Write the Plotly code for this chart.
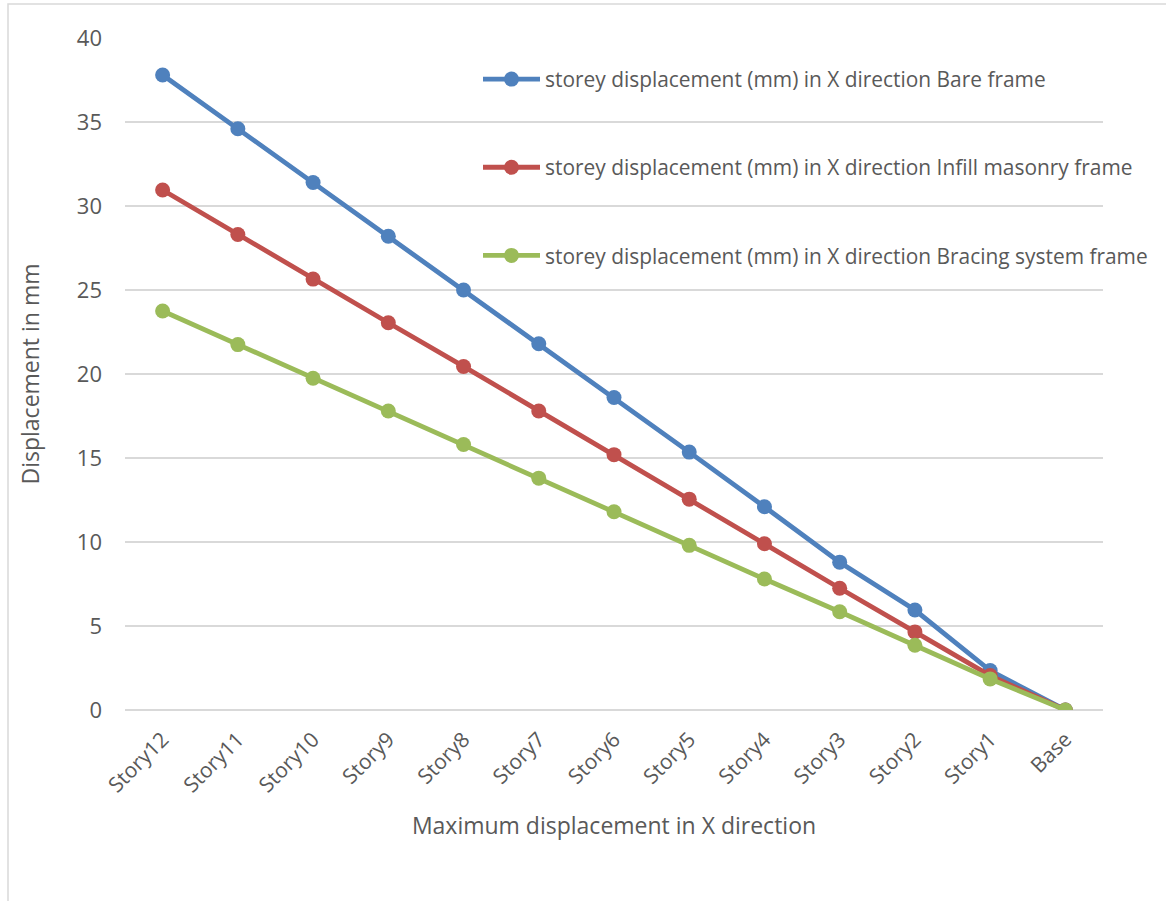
import plotly.graph_objects as go

categories = ["Story12", "Story11", "Story10", "Story9", "Story8", "Story7",
              "Story6", "Story5", "Story4", "Story3", "Story2", "Story1", "Base"]

bare_frame = [37.8, 34.6, 31.4, 28.2, 25.0, 21.8, 18.6, 15.35, 12.1, 8.8, 5.95, 2.35, 0]
infill_masonry = [30.95, 28.3, 25.65, 23.05, 20.45, 17.8, 15.2, 12.55, 9.9, 7.25, 4.65, 2.05, 0]
bracing_system = [23.75, 21.75, 19.75, 17.8, 15.8, 13.8, 11.8, 9.8, 7.8, 5.85, 3.85, 1.85, 0]

series_names = [
    "storey displacement (mm) in X direction Bare frame",
    "storey displacement (mm) in X direction Infill masonry frame",
    "storey displacement (mm) in X direction Bracing system frame",
]
series_values = [bare_frame, infill_masonry, bracing_system]
series_colors = ["#4F81BD", "#C0504D", "#9BBB59"]

FONT = "Open Sans, Calibri, sans-serif"
TEXT = "#595959"

fig = go.Figure()
for i, (name, vals, col) in enumerate(zip(series_names, series_values, series_colors)):
    fig.add_trace(go.Scatter(
        x=categories, y=vals, name=name, mode="lines+markers",
        line=dict(color=col, width=4.8),
        marker=dict(color=col, size=15),
        legendgroup=f"g{i}",
    ))

W, H = 1166, 901
L, R, T, B = 125, 63, 38, 191
pw, ph = W - L - R, H - T - B

fig.update_layout(
    width=W, height=H,
    margin=dict(l=L, r=R, t=T, b=B),
    paper_bgcolor="white", plot_bgcolor="white",
    font=dict(family=FONT, color=TEXT, size=20),
    showlegend=True,
    legend=dict(
        x=(483 - L - 5) / pw, y=1 - (78 - 19 - T) / ph,
        xanchor="left", yanchor="top",
        bgcolor="rgba(0,0,0,0)",
        font=dict(size=20.9, color=TEXT, family=FONT),
        tracegroupgap=58, itemwidth=57,
    ),
    xaxis=dict(
        type="category", showgrid=False, zeroline=False,
        showline=False, ticks="", tickangle=-45, ticklabelstandoff=12,
        tickfont=dict(size=21, color=TEXT),
        title=dict(text="Maximum displacement in X direction",
                   font=dict(size=23, color=TEXT), standoff=20),
        range=[-0.5, len(categories) - 0.5],
    ),
    yaxis=dict(
        range=[0, 40], dtick=5, showgrid=True, gridcolor="#D9D9D9",
        gridwidth=1.5, zeroline=True, zerolinecolor="#D9D9D9", zerolinewidth=1.5,
        showline=False, ticks="", ticklabelstandoff=22,
        tickfont=dict(size=22, color=TEXT),
        title=dict(text="Displacement in mm", font=dict(size=23, color=TEXT), standoff=30),
    ),
    shapes=[dict(
        type="rect", xref="paper", yref="paper", layer="below",
        x0=(8 - L) / pw, x1=(W + 20 - L) / pw,
        y0=-(H + 20 - T - ph) / ph, y1=1 + (T - 4) / ph,
        line=dict(color="#D9D9D9", width=1.5), fillcolor="rgba(0,0,0,0)",
    )],
)

fig.write_html("out.html")
